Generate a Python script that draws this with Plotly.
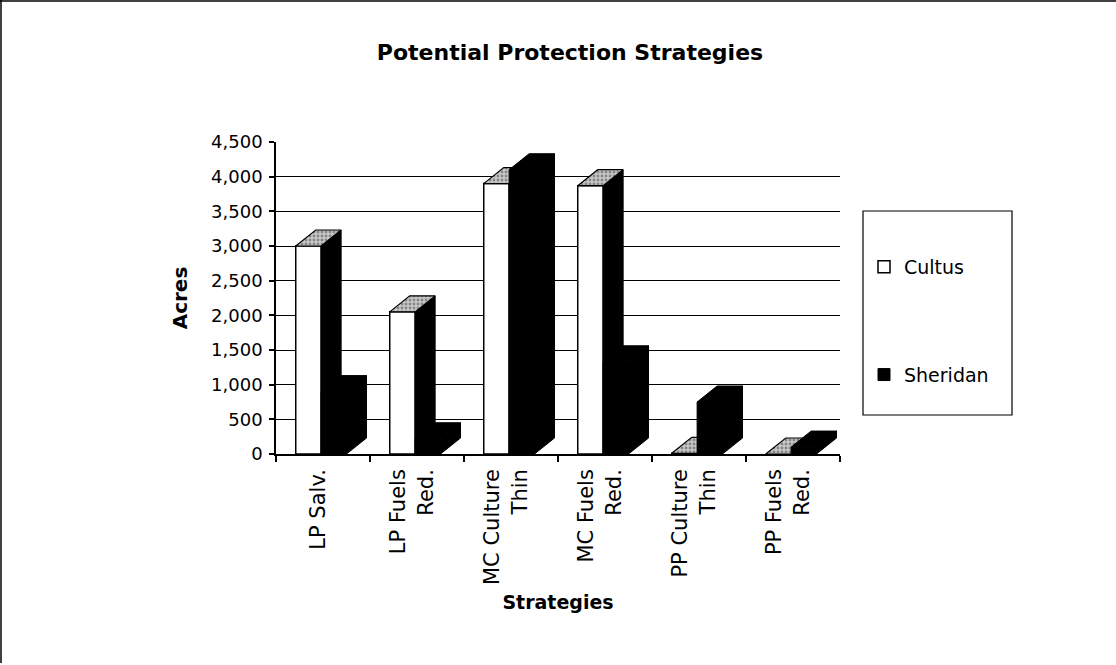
import plotly.graph_objects as go

# ---- data ----
categories = ["LP Salv.", "LP Fuels<br>Red.", "MC Culture<br>Thin",
              "MC Fuels<br>Red.", "PP Culture<br>Thin", "PP Fuels<br>Red."]
cultus = [3000, 2050, 3900, 3870, 10, 0]
sheridan = [900, 220, 4100, 1330, 750, 100]
y_ticks = [0, 500, 1000, 1500, 2000, 2500, 3000, 3500, 4000, 4500]

# ---- style / layout constants ----
W, H = 1116, 665
ML, MR, MT, MB = 276, 276, 142, 211
PLOT_H = H - MT - MB
Y_MAX = 4500
BAR_W = 0.27
OFF_C = -0.29
OFF_S = -0.02
DEPTH_X = 0.213            # category units
DEPTH_PX = 16              # pixels
DEPTH_Y = DEPTH_PX * Y_MAX / PLOT_H

xs = list(range(len(categories)))


def faces(values, offset):
    sx, sy, tx, ty = [], [], [], []
    for i, v in zip(xs, values):
        x0 = i + offset
        x1 = x0 + BAR_W
        sx += [x1, x1 + DEPTH_X, x1 + DEPTH_X, x1, x1, None]
        sy += [0, DEPTH_Y, v + DEPTH_Y, v, 0, None]
        tx += [x0, x0 + DEPTH_X, x1 + DEPTH_X, x1, x0, None]
        ty += [v, v + DEPTH_Y, v + DEPTH_Y, v, v, None]
    return sx, sy, tx, ty


fig = go.Figure()

# Cultus (lower subplot)
fig.add_trace(go.Bar(
    x=xs, y=cultus, width=BAR_W, offset=OFF_C, name="Cultus",
    marker=dict(color="white", line=dict(color="black", width=1.5)),
    legendgroup="c", xaxis="x", yaxis="y"))
csx, csy, ctx, cty = faces(cultus, OFF_C)
fig.add_trace(go.Scatter(
    x=csx, y=csy, mode="lines", fill="toself", fillcolor="black",
    line=dict(color="black", width=1), showlegend=False, hoverinfo="skip",
    xaxis="x", yaxis="y"))
fig.add_trace(go.Scatter(
    x=ctx, y=cty, mode="lines", fill="toself", fillcolor="#bdbdbd",
    fillpattern=dict(shape=".", bgcolor="#c8c8c8", fgcolor="#444444",
                     size=4, solidity=0.4),
    line=dict(color="black", width=1.2), showlegend=False, hoverinfo="skip",
    xaxis="x", yaxis="y"))

# Sheridan (overlay subplot, drawn above Cultus)
fig.add_trace(go.Bar(
    x=xs, y=sheridan, width=BAR_W, offset=OFF_S, name="Sheridan",
    marker=dict(color="black", line=dict(color="black", width=1)),
    legendgroup="s", xaxis="x2", yaxis="y2"))
ssx, ssy, stx, sty = faces(sheridan, OFF_S)
fig.add_trace(go.Scatter(
    x=ssx, y=ssy, mode="lines", fill="toself", fillcolor="black",
    line=dict(color="black", width=1), showlegend=False, hoverinfo="skip",
    xaxis="x2", yaxis="y2"))
fig.add_trace(go.Scatter(
    x=stx, y=sty, mode="lines", fill="toself", fillcolor="black",
    line=dict(color="black", width=1), showlegend=False, hoverinfo="skip",
    xaxis="x2", yaxis="y2"))

font_main = "DejaVu Sans, Arial, sans-serif"
bounds = [i - 0.5 for i in range(len(categories) + 1)]

fig.update_layout(
    width=W, height=H,
    margin=dict(l=ML, r=MR, t=MT, b=MB),
    paper_bgcolor="white", plot_bgcolor="white",
    font=dict(family=font_main, color="black"),
    title=dict(text="<b>Potential Protection Strategies</b>",
               font=dict(size=22, family=font_main, color="black"),
               x=570 / W, xanchor="center", xref="container",
               y=1 - 52 / H, yanchor="middle", yref="container"),
    showlegend=True,
    legend=dict(x=(864 - ML) / (W - ML - MR), xanchor="left",
                y=(H - MB - 248) / PLOT_H, yanchor="top",
                bgcolor="rgba(0,0,0,0)", borderwidth=0,
                tracegroupgap=80,
                font=dict(size=19, family=font_main, color="black")),
    xaxis=dict(range=[-0.5, len(categories) - 0.5],
               tickmode="array", tickvals=[i - 0.05 for i in xs],
               ticktext=categories, tickangle=-90, ticks="",
               ticklabelstandoff=5,
               tickfont=dict(size=21, family=font_main, color="black"),
               showgrid=False, zeroline=False,
               showline=True, linecolor="black", linewidth=1.5,
               minor=dict(tickmode="array", tickvals=bounds, ticks="outside",
                          ticklen=6, tickcolor="black", tickwidth=1.5,
                          showgrid=False),
               title=dict(text="<b>Strategies</b>", standoff=12,
                          font=dict(size=19, family=font_main, color="black"))),
    yaxis=dict(range=[0, Y_MAX], tickmode="array", tickvals=y_ticks,
               tickformat=",", ticks="outside", ticklen=5,
               tickcolor="black", tickwidth=1.5, ticklabelstandoff=3,
               tickfont=dict(size=18, family=font_main, color="black"),
               showgrid=True, gridcolor="black", gridwidth=1,
               zeroline=False, showline=True, linecolor="black", linewidth=1.5,
               title=dict(text="<b>Acres</b>", standoff=18,
                          font=dict(size=20, family=font_main, color="black"))),
    xaxis2=dict(overlaying="x", matches="x", visible=False,
                range=[-0.5, len(categories) - 0.5]),
    yaxis2=dict(overlaying="y", matches="y", visible=False, range=[0, Y_MAX]),
    shapes=[
        # legend box
        dict(type="rect", xref="paper", yref="paper",
             x0=(863 - ML) / (W - ML - MR), x1=(1012 - ML) / (W - ML - MR),
             y0=(H - MB - 415) / PLOT_H, y1=(H - MB - 211) / PLOT_H,
             line=dict(color="black", width=1.2), fillcolor="rgba(0,0,0,0)"),
        # chart border (top and left)
        dict(type="line", xref="paper", yref="paper",
             x0=(0 - ML) / (W - ML - MR), x1=(W - ML) / (W - ML - MR),
             y0=(H - MB - 1) / PLOT_H, y1=(H - MB - 1) / PLOT_H,
             line=dict(color="black", width=1.5)),
        dict(type="line", xref="paper", yref="paper",
             x0=(1 - ML) / (W - ML - MR), x1=(1 - ML) / (W - ML - MR),
             y0=(H - MB - 0) / PLOT_H, y1=(H - MB - H + 2) / PLOT_H,
             line=dict(color="black", width=1.5)),
    ],
)

fig.write_html("out.html")
